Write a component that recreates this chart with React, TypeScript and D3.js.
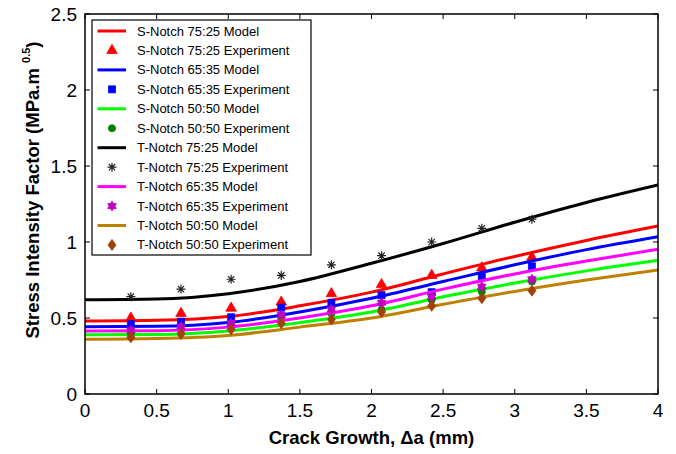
import React from 'react';
import * as d3 from 'd3';

const W = 676, H = 454;
const PL = 85, PR = 658, PT = 14, PB = 394;

const modelX = [0, 0.5, 1, 1.5, 2, 2.5, 3, 3.5, 4];
const sNotch7525Model = [0.48, 0.485, 0.51, 0.58, 0.67, 0.79, 0.905, 1.01, 1.105];
const sNotch6535Model = [0.443, 0.445, 0.47, 0.54, 0.63, 0.74, 0.85, 0.95, 1.035];
const sNotch5050Model = [0.39, 0.392, 0.415, 0.47, 0.54, 0.64, 0.73, 0.81, 0.88];
const tNotch7525Model = [0.62, 0.625, 0.66, 0.74, 0.86, 0.99, 1.13, 1.26, 1.375];
const tNotch6535Model = [0.414, 0.416, 0.44, 0.5, 0.58, 0.69, 0.79, 0.875, 0.952];
const tNotch5050Model = [0.36, 0.365, 0.385, 0.44, 0.5, 0.59, 0.675, 0.75, 0.816];

const expX = [0.32, 0.67, 1.02, 1.37, 1.72, 2.07, 2.42, 2.77, 3.12];
const sNotch7525Exp = [0.5, 0.53, 0.565, 0.605, 0.66, 0.72, 0.78, 0.83, 0.9];
const sNotch6535Exp = [0.46, 0.476, 0.505, 0.568, 0.6, 0.65, 0.67, 0.77, 0.84];
const sNotch5050Exp = [0.4, 0.42, 0.445, 0.49, 0.53, 0.555, 0.62, 0.673, 0.74];
const tNotch7525Exp = [0.64, 0.69, 0.755, 0.78, 0.85, 0.91, 1.0, 1.09, 1.15];
const tNotch6535Exp = [0.42, 0.443, 0.465, 0.52, 0.557, 0.6, 0.64, 0.706, 0.755];
const tNotch5050Exp = [0.373, 0.395, 0.425, 0.465, 0.49, 0.54, 0.58, 0.63, 0.68];

const xTicks = [0, 0.5, 1, 1.5, 2, 2.5, 3, 3.5, 4];
const yTicks = [0, 0.5, 1, 1.5, 2, 2.5];

type Entry = { label: string; kind: 'line' | 'marker'; color: string; values: number[]; marker?: string };

const series: Entry[] = [
  { label: 'S-Notch 75:25 Model', kind: 'line', color: '#ff0000', values: sNotch7525Model },
  { label: 'S-Notch 75:25 Experiment', kind: 'marker', color: '#ff0000', values: sNotch7525Exp, marker: 'triangle' },
  { label: 'S-Notch 65:35 Model', kind: 'line', color: '#0000ff', values: sNotch6535Model },
  { label: 'S-Notch 65:35 Experiment', kind: 'marker', color: '#0000ff', values: sNotch6535Exp, marker: 'square' },
  { label: 'S-Notch 50:50 Model', kind: 'line', color: '#00ff00', values: sNotch5050Model },
  { label: 'S-Notch 50:50 Experiment', kind: 'marker', color: '#008000', values: sNotch5050Exp, marker: 'circle' },
  { label: 'T-Notch 75:25 Model', kind: 'line', color: '#000000', values: tNotch7525Model },
  { label: 'T-Notch 75:25 Experiment', kind: 'marker', color: '#222222', values: tNotch7525Exp, marker: 'asterisk' },
  { label: 'T-Notch 65:35 Model', kind: 'line', color: '#ff00ff', values: tNotch6535Model },
  { label: 'T-Notch 65:35 Experiment', kind: 'marker', color: '#bf00bf', values: tNotch6535Exp, marker: 'hexagram' },
  { label: 'T-Notch 50:50 Model', kind: 'line', color: '#bf8000', values: tNotch5050Model },
  { label: 'T-Notch 50:50 Experiment', kind: 'marker', color: '#a0400a', values: tNotch5050Exp, marker: 'diamond' },
];

function markerPath(m: string): string {
  switch (m) {
    case 'triangle':
      return d3.symbol(d3.symbolTriangle, 48)() as string;
    case 'square':
      return 'M-3.5,-3.5H3.5V3.5H-3.5Z';
    case 'circle':
      return d3.symbol(d3.symbolCircle, 40)() as string;
    case 'diamond':
      return 'M0,-5.5L4,0L0,5.5L-4,0Z';
    case 'hexagram': {
      const r = 5;
      const pts1 = [0, 1, 2].map(i => { const a = -Math.PI / 2 + i * 2 * Math.PI / 3; return [r * Math.cos(a), r * Math.sin(a)]; });
      const pts2 = [0, 1, 2].map(i => { const a = Math.PI / 2 + i * 2 * Math.PI / 3; return [r * Math.cos(a), r * Math.sin(a)]; });
      const t = (p: number[][]) => 'M' + p.map(q => q[0].toFixed(2) + ',' + q[1].toFixed(2)).join('L') + 'Z';
      return t(pts1) + t(pts2);
    }
    case 'asterisk': {
      const r = 4.5;
      let d = '';
      for (let i = 0; i < 4; i++) {
        const a = i * Math.PI / 4;
        d += `M${(-r * Math.cos(a)).toFixed(2)},${(-r * Math.sin(a)).toFixed(2)}L${(r * Math.cos(a)).toFixed(2)},${(r * Math.sin(a)).toFixed(2)}`;
      }
      return d;
    }
  }
  return '';
}

function Marker({ m, color, x, y }: { m: string; color: string; x: number; y: number }) {
  const d = markerPath(m);
  if (m === 'asterisk') {
    return <path d={d} transform={`translate(${x},${y})`} stroke={color} strokeWidth={1.2} fill="none" />;
  }
  return <path d={d} transform={`translate(${x},${y})`} fill={color} stroke={color} strokeWidth={0.8} />;
}

export default function App() {
  const x = d3.scaleLinear().domain([0, 4]).range([PL, PR]);
  const y = d3.scaleLinear().domain([0, 2.5]).range([PB, PT]);
  const line = d3.line<[number, number]>().x(d => x(d[0])).y(d => y(d[1])).curve(d3.curveMonotoneX);
  const font = '"Liberation Sans", Arial, Helvetica, sans-serif';

  const legendX = 92, legendY = 20, legendW = 219, legendH = 235;
  const rowY = (i: number) => 31 + i * 19.45;

  return (
    <svg width={W} height={H} style={{ position: 'absolute', left: 0, top: 0, background: '#fff' }} fontFamily={font}>
      <rect x={0} y={0} width={W} height={H} fill="#fff" />
      <defs>
        <clipPath id="plotclip">
          <rect x={PL} y={PT} width={PR - PL} height={PB - PT} />
        </clipPath>
      </defs>
      <g clipPath="url(#plotclip)">
        {series.map((s, i) =>
          s.kind === 'line' ? (
            <path key={i} d={line(modelX.map((v, j) => [v, s.values[j]] as [number, number])) as string}
              fill="none" stroke={s.color} strokeWidth={3} />
          ) : (
            <g key={i}>
              {expX.map((v, j) => <Marker key={j} m={s.marker!} color={s.color} x={x(v)} y={y(s.values[j])} />)}
            </g>
          )
        )}
      </g>
      {/* axes box */}
      <rect x={PL} y={PT} width={PR - PL} height={PB - PT} fill="none" stroke="#000" strokeWidth={1.5} />
      {xTicks.map((t, i) => (
        <g key={'xt' + i}>
          <line x1={x(t)} x2={x(t)} y1={PB} y2={PB - 5} stroke="#000" strokeWidth={1} />
          <line x1={x(t)} x2={x(t)} y1={PT} y2={PT + 5} stroke="#000" strokeWidth={1} />
          <text x={x(t)} y={417} textAnchor="middle" fontSize={19} fill="#000">{String(t)}</text>
        </g>
      ))}
      {yTicks.map((t, i) => (
        <g key={'yt' + i}>
          <line x1={PL} x2={PL + 5} y1={y(t)} y2={y(t)} stroke="#000" strokeWidth={1} />
          <line x1={PR} x2={PR - 5} y1={y(t)} y2={y(t)} stroke="#000" strokeWidth={1} />
          <text x={77} y={y(t) + 6.8} textAnchor="end" fontSize={19} fill="#000">{String(t)}</text>
        </g>
      ))}
      <text x={(PL + PR) / 2} y={444} textAnchor="middle" fontSize={18.5} fontWeight="bold" fill="#000">
        Crack Growth, Δa (mm)
      </text>
      <text transform="translate(38.5,190) rotate(-90)" textAnchor="middle" fontSize={18.5} fontWeight="bold" fill="#000">
        Stress Intensity Factor (MPa.m <tspan fontSize={11} dy={-9}>0.5</tspan><tspan dy={9}>)</tspan>
      </text>
      {/* legend */}
      <rect x={legendX} y={legendY} width={legendW} height={legendH} fill="#fff" stroke="#000" strokeWidth={1.2} />
      {series.map((s, i) => (
        <g key={'lg' + i}>
          {s.kind === 'line' ? (
            <line x1={97.5} x2={126} y1={rowY(i)} y2={rowY(i)} stroke={s.color} strokeWidth={3} />
          ) : (
            <Marker m={s.marker!} color={s.color} x={112} y={rowY(i)} />
          )}
          <text x={137} y={rowY(i) + 4.5} fontSize={13} fill="#000">{s.label}</text>
        </g>
      ))}
    </svg>
  );
}
